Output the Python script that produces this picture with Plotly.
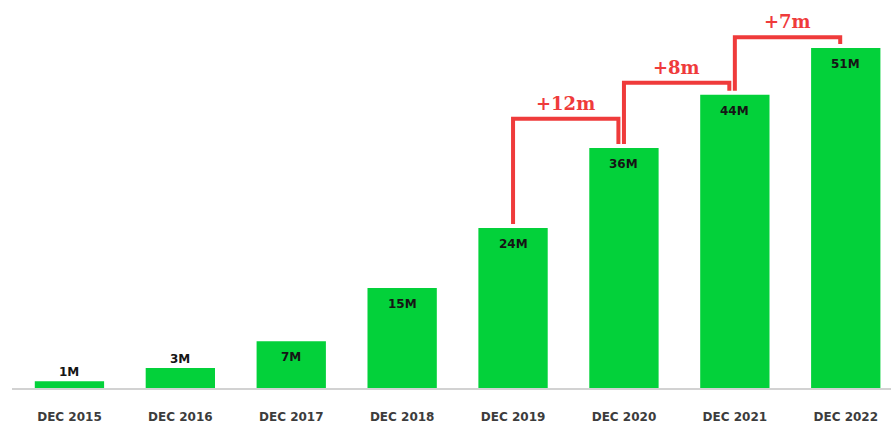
import plotly.graph_objects as go

categories = ["DEC 2015", "DEC 2016", "DEC 2017", "DEC 2018",
              "DEC 2019", "DEC 2020", "DEC 2021", "DEC 2022"]
users_m = [1, 3, 7, 15, 24, 36, 44, 51]
value_labels = ["1M", "3M", "7M", "15M", "24M", "36M", "44M", "51M"]

# growth brackets: (from index, to index, label, top height in M)
bracket_from = [4, 5, 6]
bracket_to = [5, 6, 7]
bracket_labels = ["+12m", "+8m", "+7m"]
bracket_tops = [40.4, 45.8, 52.6]

GREEN = "#03d13a"
RED = "#ef3b3b"

x = list(range(len(categories)))

fig = go.Figure()
fig.add_trace(go.Bar(
    x=x, y=users_m, marker=dict(color=GREEN, line=dict(width=0)),
    hoverinfo="skip", showlegend=False,
))

# value labels
for xi, v, lab in zip(x, users_m, value_labels):
    inside = v >= 5
    fig.add_annotation(
        x=xi, y=v, text=f"<b>{lab}</b>", showarrow=False,
        yanchor="middle", yshift=-16 if inside else 9,
        font=dict(family="DejaVu Sans", size=12, color="#151515"),
    )

# brackets
for i0, i1, lab, top in zip(bracket_from, bracket_to, bracket_labels, bracket_tops):
    xl = i0 + 0.0
    xr = i1 - 0.05
    fig.add_trace(go.Scatter(
        x=[xl, xl, xr, xr],
        y=[users_m[i0] + 0.6, top, top, users_m[i1] + 0.6],
        mode="lines", line=dict(color=RED, width=4),
        hoverinfo="skip", showlegend=False,
    ))
    fig.add_annotation(
        x=(xl + xr) / 2, y=top, text=f"<b>{lab}</b>", showarrow=False,
        yanchor="bottom", yshift=3,
        font=dict(family="DejaVu Serif", size=18, color=RED),
    )

fig.update_layout(
    width=891, height=423,
    margin=dict(l=12, r=0, t=0, b=35, autoexpand=False),
    paper_bgcolor="white", plot_bgcolor="white",
    bargap=0.375,
    xaxis=dict(
        range=[-0.518, 7.408], tickvals=x, ticktext=categories,
        showgrid=False, zeroline=False, showline=True,
        linecolor="#d2d2d2", linewidth=2, automargin=False,
        ticks="", ticklabelstandoff=17,
        tickfont=dict(family="DejaVu Sans", size=12, color="#3c3c3c", weight="bold"),
    ),
    yaxis=dict(range=[0, 58.2], visible=False, showgrid=False, zeroline=False,
               automargin=False),
)

fig.write_html("out.html")
